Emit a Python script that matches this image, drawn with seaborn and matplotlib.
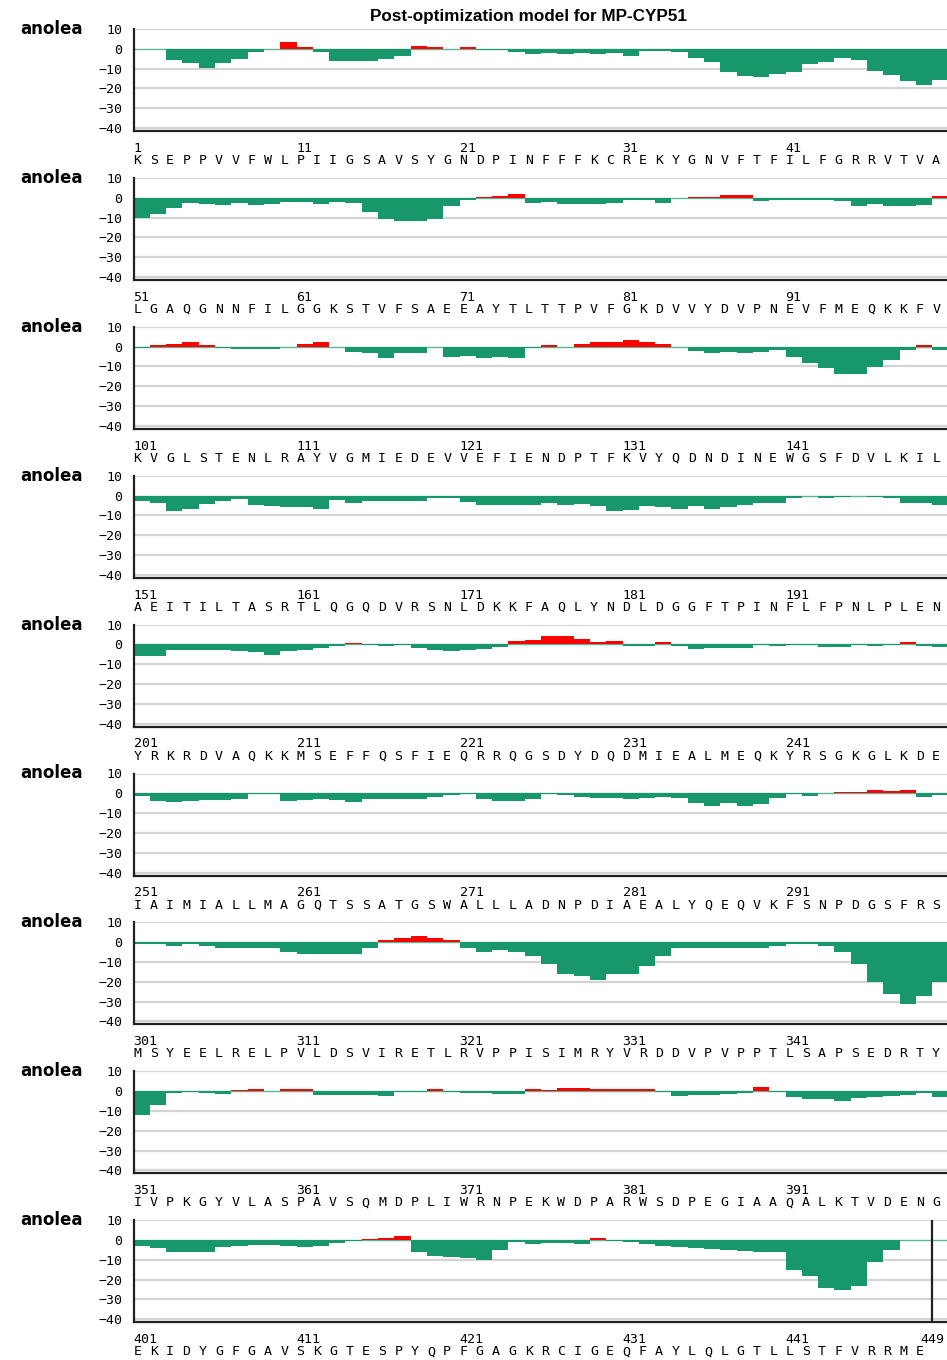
import numpy as np
import pandas as pd
import seaborn as sns
import matplotlib.pyplot as plt
from matplotlib.transforms import blended_transform_factory

title = "Post-optimization model for MP-CYP51"
track_label = "anolea"

# sequence, 50 residues per row
seq_rows = [
    "KSEPPVVFWLPIIGSAVSYGNDPINFFFKCREKYGNVFTFILFGRRVTVA",
    "LGAQGNNFILGGKSTVFSAEEAYTLTTPVFGKDVVYDVPNEVFMEQKKFV",
    "KVGLSTENLRAYVGMIEDEVVEFIENDPTFKVYQDNDINEWGSFDVLKIL",
    "AEITILTASRTLQGQDVRSNLDKKFAQLYNDLDGGFTPINFLFPNLPLEN",
    "YRKRDVAQKKMSEFFQSFIEQRRQGSDYDQDMIEALMEQKYRSGKGLKDE",
    "IAIMIALLMAGQTSSATGSWALLLADNPDIAEALYQEQVKFSNPDGSFRS",
    "MSYEELRELPVLDSVIRETLRVPPISIMRYVRDDVPVPPTLSAPSEDRTY",
    "IVPKGYVLASPAVSQMDPLIWRNPEKWDPARWSDPEGIAAQALKTVDENG",
    "EKIDYGFGAVSKGTESPYQPFGAGKRCIGEQFAYLQLGTLLSTFVRRME",
]

# ANOLEA energy per residue
anolea_001 = [0, 0, -5.9, -7.1, -9.6, -7.1, -5.2, -1.4, -0.2, 3.5,
              1.0, -1.4, -6.0, -6.0, -6.4, -5.2, -3.4, 1.5, 0.8, -0.2,
              1.0, -0.5, -0.8, -1.7, -2.5, -2.0, -2.5, -2.0, -2.5, -2.0,
              -3.4, -1.0, -1.0, -1.7, -4.5, -6.7, -11.5, -13.5, -14.2, -12.6,
              -11.5, -7.6, -6.6, -4.7, -5.9, -11.0, -13.3, -16.5, -18.5, -16.0]
anolea_051 = [-10.3, -8.3, -5.3, -2.5, -3.0, -3.5, -2.5, -3.5, -3.0, -2.0,
              -2.0, -3.0, -2.0, -2.5, -7.3, -11.0, -11.7, -11.7, -11.0, -4.2,
              -1.0, 0.5, 1.0, 2.0, -2.5, -2.0, -3.0, -3.0, -3.0, -2.5,
              -1.3, -1.3, -2.5, -0.2, 0.3, 0.5, 1.3, 1.3, -1.6, -1.3,
              -1.3, -1.3, -1.3, -1.6, -4.2, -3.0, -4.2, -4.2, -3.7, 0.7]
anolea_101 = [-0.7, 1.0, 1.5, 2.2, 1.0, -0.7, -1.4, -1.4, -1.4, -0.2,
              1.5, 2.2, -0.2, -2.9, -3.4, -5.9, -3.4, -3.4, -0.2, -5.1,
              -4.7, -5.9, -5.3, -5.9, -0.8, 0.8, 0, 1.5, 2.2, 2.2,
              3.2, 2.2, 1.5, 0, -2.2, -3.0, -2.5, -3.0, -2.5, -1.9,
              -5.3, -8.1, -11.0, -13.6, -13.6, -10.3, -6.8, -1.5, 0.8, -1.5]
anolea_151 = [-2.9, -4.0, -8.0, -6.6, -4.2, -2.9, -1.7, -4.7, -5.4, -5.9,
              -5.9, -6.6, -2.4, -4.0, -2.9, -2.9, -2.9, -2.9, -1.2, -1.5,
              -3.4, -5.0, -5.0, -5.0, -5.0, -3.7, -4.9, -4.2, -5.4, -8.0,
              -7.1, -5.4, -5.9, -6.6, -5.4, -6.6, -5.9, -4.9, -3.7, -3.7,
              -1.2, -0.3, -1.5, -0.8, -0.3, -0.8, -1.5, -3.7, -3.7, -4.7]
anolea_201 = [-6.0, -6.0, -2.7, -2.7, -2.7, -2.7, -3.2, -3.8, -5.2, -3.2,
              -2.7, -2.0, -0.8, 0.8, -0.2, -0.8, -0.3, -1.7, -2.7, -3.3,
              -2.7, -2.5, -1.5, 1.7, 2.3, 4.0, 4.0, 2.7, 1.0, 1.7,
              -0.7, -0.7, 1.0, -0.7, -2.5, -1.8, -1.8, -1.8, -0.2, -0.7,
              -0.3, -0.3, -1.3, -1.3, -0.3, -0.7, -0.3, 1.0, -0.7, -1.3]
anolea_251 = [-1.4, -3.7, -4.4, -3.7, -3.2, -3.2, -2.7, -0.2, -0.2, -3.7,
              -3.2, -2.7, -3.2, -4.4, -2.7, -2.7, -2.7, -2.7, -1.7, -1.0,
              -0.5, -3.0, -4.0, -4.0, -3.0, -0.3, -1.0, -1.7, -2.5, -2.5,
              -3.0, -2.5, -2.0, -2.5, -5.0, -6.2, -5.0, -6.2, -5.3, -2.5,
              -0.5, -1.3, 0, 0.7, 0.7, 1.8, 1.3, 1.8, -1.7, -1.0]
anolea_301 = [-1.0, -1.0, -2.0, -1.0, -2.0, -3.0, -3.0, -3.0, -3.0, -5.0,
              -6.0, -6.0, -6.0, -6.0, -3.0, 1.0, 2.0, 3.0, 2.0, 1.0,
              -3.0, -5.0, -4.0, -5.0, -7.0, -11.0, -16.0, -17.0, -19.0, -16.0,
              -16.0, -12.0, -7.0, -3.0, -3.0, -3.0, -3.0, -3.0, -3.0, -2.0,
              -1.0, -1.0, -2.0, -5.0, -11.0, -20.0, -26.0, -31.0, -27.0, -20.0]
anolea_351 = [-12.0, -7.0, -1.0, -0.5, -1.0, -1.5, 0.5, 1.0, 0, 1.0,
              1.0, -2.0, -2.0, -2.0, -2.0, -2.5, -0.5, -0.5, 1.0, -0.5,
              -1.0, -1.0, -1.5, -1.5, 1.0, 0.5, 1.5, 1.5, 1.0, 1.0,
              1.0, 1.0, -0.5, -2.5, -2.0, -2.0, -1.5, -1.0, 2.0, -0.5,
              -3.0, -4.0, -4.0, -5.0, -3.5, -3.0, -2.5, -2.0, -1.0, -3.0]
anolea_401 = [-3.0, -4.0, -6.0, -6.0, -6.0, -3.5, -3.0, -2.5, -2.5, -3.0,
              -3.5, -3.0, -1.5, -0.5, 0.5, 1.0, 2.0, -6.0, -8.0, -8.5,
              -9.0, -10.0, -5.0, -1.0, -2.0, -1.5, -1.5, -2.0, 1.0, -0.5,
              -1.0, -2.0, -3.0, -3.5, -4.0, -4.5, -5.0, -5.5, -6.0, -6.0,
              -15.0, -18.0, -24.0, -25.0, -23.0, -11.0, -5.0, 0, 0]
row_values = [anolea_001, anolea_051, anolea_101, anolea_151, anolea_201,
              anolea_251, anolea_301, anolea_351, anolea_401]

y_ticks = [10, 0, -10, -20, -30, -40]
green = "#17976a"
red = "#ff0000"

sns.set_style("white")
plt.rcParams["font.family"] = ["DejaVu Sans"]
for key in ["text.color", "axes.labelcolor", "xtick.color", "ytick.color"]:
    plt.rcParams[key] = "black"

W, H = 947, 1360
fig = plt.figure(figsize=(W / 100, H / 100), dpi=100)

left_px = 133.5
cell_px = 16.3
row_step = 148.9

for k, (seq, vals) in enumerate(zip(seq_rows, row_values)):
    start = 1 + 50 * k
    n = len(vals)
    df = pd.DataFrame({
        "pos": np.arange(1, n + 1),
        "val": vals,
        "sign": ["neg" if v < 0 else "pos" for v in vals],
    })

    top_px = 29 + k * row_step
    bot_px = top_px + 102
    ax = fig.add_axes([left_px / W, 1 - bot_px / H, 50 * cell_px / W, 102 / H])

    for g in [10, -10, -20, -30, -40]:
        ax.axhline(g, color="#d4d4d4", lw=1.6, zorder=0)
    ax.axhline(0, color=green, lw=1.0, alpha=0.7, zorder=1)

    sns.barplot(data=df, x="pos", y="val", hue="sign",
                palette={"neg": green, "pos": red}, hue_order=["neg", "pos"],
                native_scale=True, width=1.0, dodge=False, saturation=1,
                errorbar=None, legend=False, linewidth=0, ax=ax, zorder=2)

    ax.set_xlim(0.5, 50.5)
    ax.set_ylim(-41.5, 10)
    ax.set_xlabel("")
    ax.set_ylabel("")

    ax.set_yticks(y_ticks)
    ax.set_yticklabels([str(t).replace("-", "\u2212") for t in y_ticks],
                       family="DejaVu Sans Mono", fontsize=9.5)
    xt = [1, 10, 20, 30, 40, 50] if n == 50 else [1, 10, 20, 30, 40]
    ax.set_xticks(xt)
    ax.set_xticklabels([])
    ax.tick_params(axis="both", direction="out", length=5, width=1.4,
                   color="#222222", pad=3)
    for side in ["top", "right"]:
        ax.spines[side].set_visible(False)
    for side in ["left", "bottom"]:
        ax.spines[side].set_color("#222222")
        ax.spines[side].set_linewidth(1.6)
    if n < 50:
        ax.axvline(n + 0.5, color="#222222", lw=1.6)

    tr = blended_transform_factory(ax.transData, ax.transAxes)
    nums = list(range(1, n + 1, 10))
    for i in nums:
        ax.text(i - 0.5, -0.17, str(start + i - 1), transform=tr,
                ha="left", va="center", family="DejaVu Sans Mono",
                fontsize=9.5, clip_on=False)
    if n < 50:
        ax.text(n + 0.5, -0.17, str(start + n - 1), transform=tr,
                ha="center", va="center", family="DejaVu Sans Mono",
                fontsize=9.5, clip_on=False)
    for i, aa in enumerate(seq, start=1):
        ax.text(i - 0.5, -0.29, aa, transform=tr, ha="left", va="center",
                family="DejaVu Sans Mono", fontsize=9.5, clip_on=False)

    fig.text(20 / W, 1 - top_px / H, track_label, ha="left", va="center",
             fontsize=12, fontweight="bold")

fig.text(528 / W, 1 - 16 / H, title, ha="center", va="center",
         family="Liberation Sans", fontsize=12.3, fontweight="bold")

fig.savefig("out.png", dpi=100)
